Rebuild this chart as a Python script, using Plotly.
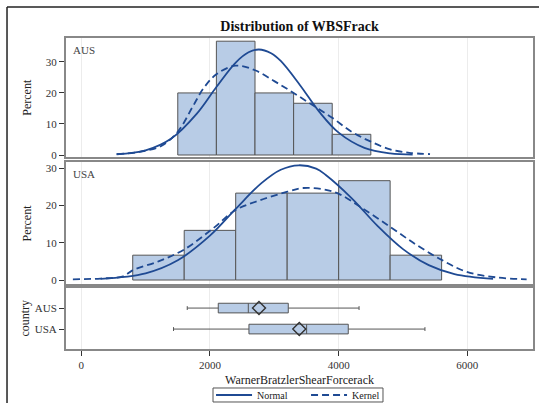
import plotly.graph_objects as go

# ---------------- data ----------------
bin_width_aus = 600
bin_width_usa = 800
aus_bin_mid = [1800, 2400, 3000, 3600, 4200]
aus_pct = [20.0, 36.67, 20.0, 16.67, 6.67]
usa_bin_mid = [1200, 2000, 2800, 3600, 4400, 5200]
usa_pct = [6.67, 13.33, 23.33, 23.33, 26.67, 6.67]

aus_normal_x = [550, 1000, 1400, 1800, 2100, 2400, 2600, 2760, 2950, 3100, 3400, 3700, 4000, 4400, 4800, 5150]
aus_normal_y = [0.25, 1.5, 5.3, 13.4, 21.9, 29.8, 33.1, 34.0, 32.8, 30.3, 22.5, 13.9, 7.2, 2.3, 0.5, 0.1]
aus_kernel_x = [550, 900, 1250, 1500, 1730, 1900, 2100, 2400, 2700, 3000, 3300, 3600, 3900, 4200, 4500, 4800, 5100, 5420]
aus_kernel_y = [0.3, 1.0, 3.0, 7.5, 15.5, 21.5, 26.0, 28.8, 27.3, 23.8, 20.0, 16.0, 12.0, 7.5, 4.3, 1.8, 0.7, 0.3]

usa_normal_x = [300, 1000, 1500, 2000, 2400, 2800, 3100, 3380, 3650, 3800, 4200, 4600, 5000, 5400, 5800, 6400]
usa_normal_y = [0.3, 1.8, 5.3, 11.9, 19.1, 26.0, 29.6, 30.8, 29.9, 28.2, 22.0, 14.6, 8.3, 4.0, 1.6, 0.3]
usa_kernel_x = [-130, 300, 650, 808, 1200, 1600, 2051, 2400, 2777, 3206, 3450, 3750, 3994, 4331, 4797, 5212, 5601, 5989, 6455, 6921]
usa_kernel_y = [0.2, 0.4, 1.0, 2.7, 5.0, 8.2, 13.9, 18.8, 21.4, 23.7, 24.7, 24.4, 23.2, 19.7, 14.3, 9.4, 5.4, 2.2, 0.7, 0.2]

countries = ["AUS", "USA"]
box_low = [1647, 1434]
box_q1 = [2129, 2606]
box_median = [2596, 3502]
box_q3 = [3217, 4149]
box_high = [4317, 5341]
box_mean = [2762, 3388]

x_ticks = [0, 2000, 4000, 6000]
pct_ticks = [0, 10, 20, 30]

# ---------------- styles ----------------
FONT = "Liberation Serif"
BAR_FILL = "rgb(184,204,230)"
BAR_LINE = "#555555"
CURVE = "#1f4a93"
FRAME = "#888888"

fig = go.Figure()

# histograms
fig.add_trace(go.Bar(x=aus_bin_mid, y=aus_pct, width=bin_width_aus, marker=dict(color=BAR_FILL, line=dict(color=BAR_LINE, width=1)),
                     xaxis="x", yaxis="y", showlegend=False, hoverinfo="skip"))
fig.add_trace(go.Bar(x=usa_bin_mid, y=usa_pct, width=bin_width_usa, marker=dict(color=BAR_FILL, line=dict(color=BAR_LINE, width=1)),
                     xaxis="x2", yaxis="y2", showlegend=False, hoverinfo="skip"))

# curves
fig.add_trace(go.Scatter(x=aus_normal_x, y=aus_normal_y, mode="lines", line=dict(color=CURVE, width=1.8, shape="spline"),
                         name="Normal", legendgroup="n", showlegend=True, xaxis="x", yaxis="y"))
fig.add_trace(go.Scatter(x=aus_kernel_x, y=aus_kernel_y, mode="lines", line=dict(color=CURVE, width=1.8, shape="spline", dash="7px,4px"),
                         name="Kernel", legendgroup="k", showlegend=True, xaxis="x", yaxis="y"))
fig.add_trace(go.Scatter(x=usa_normal_x, y=usa_normal_y, mode="lines", line=dict(color=CURVE, width=1.8, shape="spline"),
                         name="Normal", legendgroup="n", showlegend=False, xaxis="x2", yaxis="y2"))
fig.add_trace(go.Scatter(x=usa_kernel_x, y=usa_kernel_y, mode="lines", line=dict(color=CURVE, width=1.8, shape="spline", dash="7px,4px"),
                         name="Kernel", legendgroup="k", showlegend=False, xaxis="x2", yaxis="y2"))

# box plot
fig.add_trace(go.Box(y=countries, q1=box_q1, median=box_median, q3=box_q3, lowerfence=box_low, upperfence=box_high,
                     orientation="h", fillcolor=BAR_FILL, line=dict(color=BAR_LINE, width=1), width=0.46, whiskerwidth=0.4,
                     xaxis="x3", yaxis="y3", showlegend=False, hoverinfo="skip", boxpoints=False))
fig.add_trace(go.Scatter(x=box_mean, y=countries, mode="markers",
                         marker=dict(symbol="diamond-open", size=10, color="#333333", line=dict(width=1.4, color="#333333")),
                         xaxis="x3", yaxis="y3", showlegend=False, hoverinfo="skip"))

xr = [-237, 7020]
common_x = dict(range=xr, tickvals=x_ticks, showgrid=True, gridcolor="#ececec", gridwidth=1, zeroline=False,
                showline=True, linecolor=FRAME, linewidth=2, mirror=True)
common_y = dict(zeroline=False, showgrid=False, showline=True, linecolor=FRAME, linewidth=2, mirror=True,
                ticks="outside", ticklen=5, tickcolor="#333", tickfont=dict(family=FONT, size=11, color="#333"))

fig.update_layout(
    width=539, height=403,
    margin=dict(l=66, r=6, t=38, b=54, autoexpand=False),
    paper_bgcolor="white", plot_bgcolor="white",
    font=dict(family=FONT, size=11, color="#333"),
    title=dict(text="<b>Distribution of WBSFrack</b>", x=0.5, xref="paper", xanchor="center", y=0.935, yanchor="middle",
               font=dict(family=FONT, size=14, color="#111")),
    xaxis=dict(common_x, anchor="y", showticklabels=False, ticks=""),
    xaxis2=dict(common_x, anchor="y2", showticklabels=False, ticks="", matches="x"),
    xaxis3=dict(common_x, anchor="y3", ticks="outside", ticklen=5, tickcolor="#333", matches="x",
                tickfont=dict(family=FONT, size=11, color="#333"),
                title=dict(text="WarnerBratzlerShearForcerack", font=dict(family=FONT, size=12, color="#222"), standoff=5)),
    yaxis=dict(common_y, domain=[0.6158, 1.0], range=[-0.8, 37.7], tickvals=pct_ticks,
               title=dict(text="Percent", font=dict(family=FONT, size=12, color="#222"), standoff=12)),
    yaxis2=dict(common_y, domain=[0.2074, 0.5997], range=[-1.2, 31.55], tickvals=pct_ticks,
                title=dict(text="Percent", font=dict(family=FONT, size=12, color="#222"), standoff=12)),
    yaxis3=dict(common_y, domain=[0.0, 0.1977], range=[1.95, -0.98], type="category",
                categoryorder="array", categoryarray=countries,
                title=dict(text="country", font=dict(family=FONT, size=12, color="#222"), standoff=3)),
    legend=dict(orientation="h", x=0.514, xanchor="center", y=-0.1479, yanchor="middle",
                borderwidth=0, bgcolor="rgba(0,0,0,0)",
                font=dict(family=FONT, size=10, color="#222"), itemwidth=36, entrywidth=44, tracegroupgap=0),
    annotations=[
        dict(text="AUS", xref="x domain", yref="y domain", x=0.01, y=0.97, xanchor="left", yanchor="top",
             showarrow=False, font=dict(family=FONT, size=11, color="#444")),
        dict(text="USA", xref="x2 domain", yref="y2 domain", x=0.01, y=0.97, xanchor="left", yanchor="top",
             showarrow=False, font=dict(family=FONT, size=11, color="#444")),
    ],
    shapes=[
        dict(type="line", xref="paper", yref="paper", x0=-0.1263, x1=1.02, y0=1.0997, y1=1.0997, line=dict(color="#222", width=1.5)),
        dict(type="line", xref="paper", yref="paper", x0=-0.1263, x1=-0.1263, y0=1.0997, y1=-0.18, line=dict(color="#222", width=1.5)),
        # legend frame
        dict(type="rect", xref="paper", yref="paper", x0=0.3148, x1=0.6788, y0=-0.1704, y1=-0.1254,
             line=dict(color="#555", width=1), fillcolor="rgba(0,0,0,0)"),
    ],
)

fig.write_html("out.html")
